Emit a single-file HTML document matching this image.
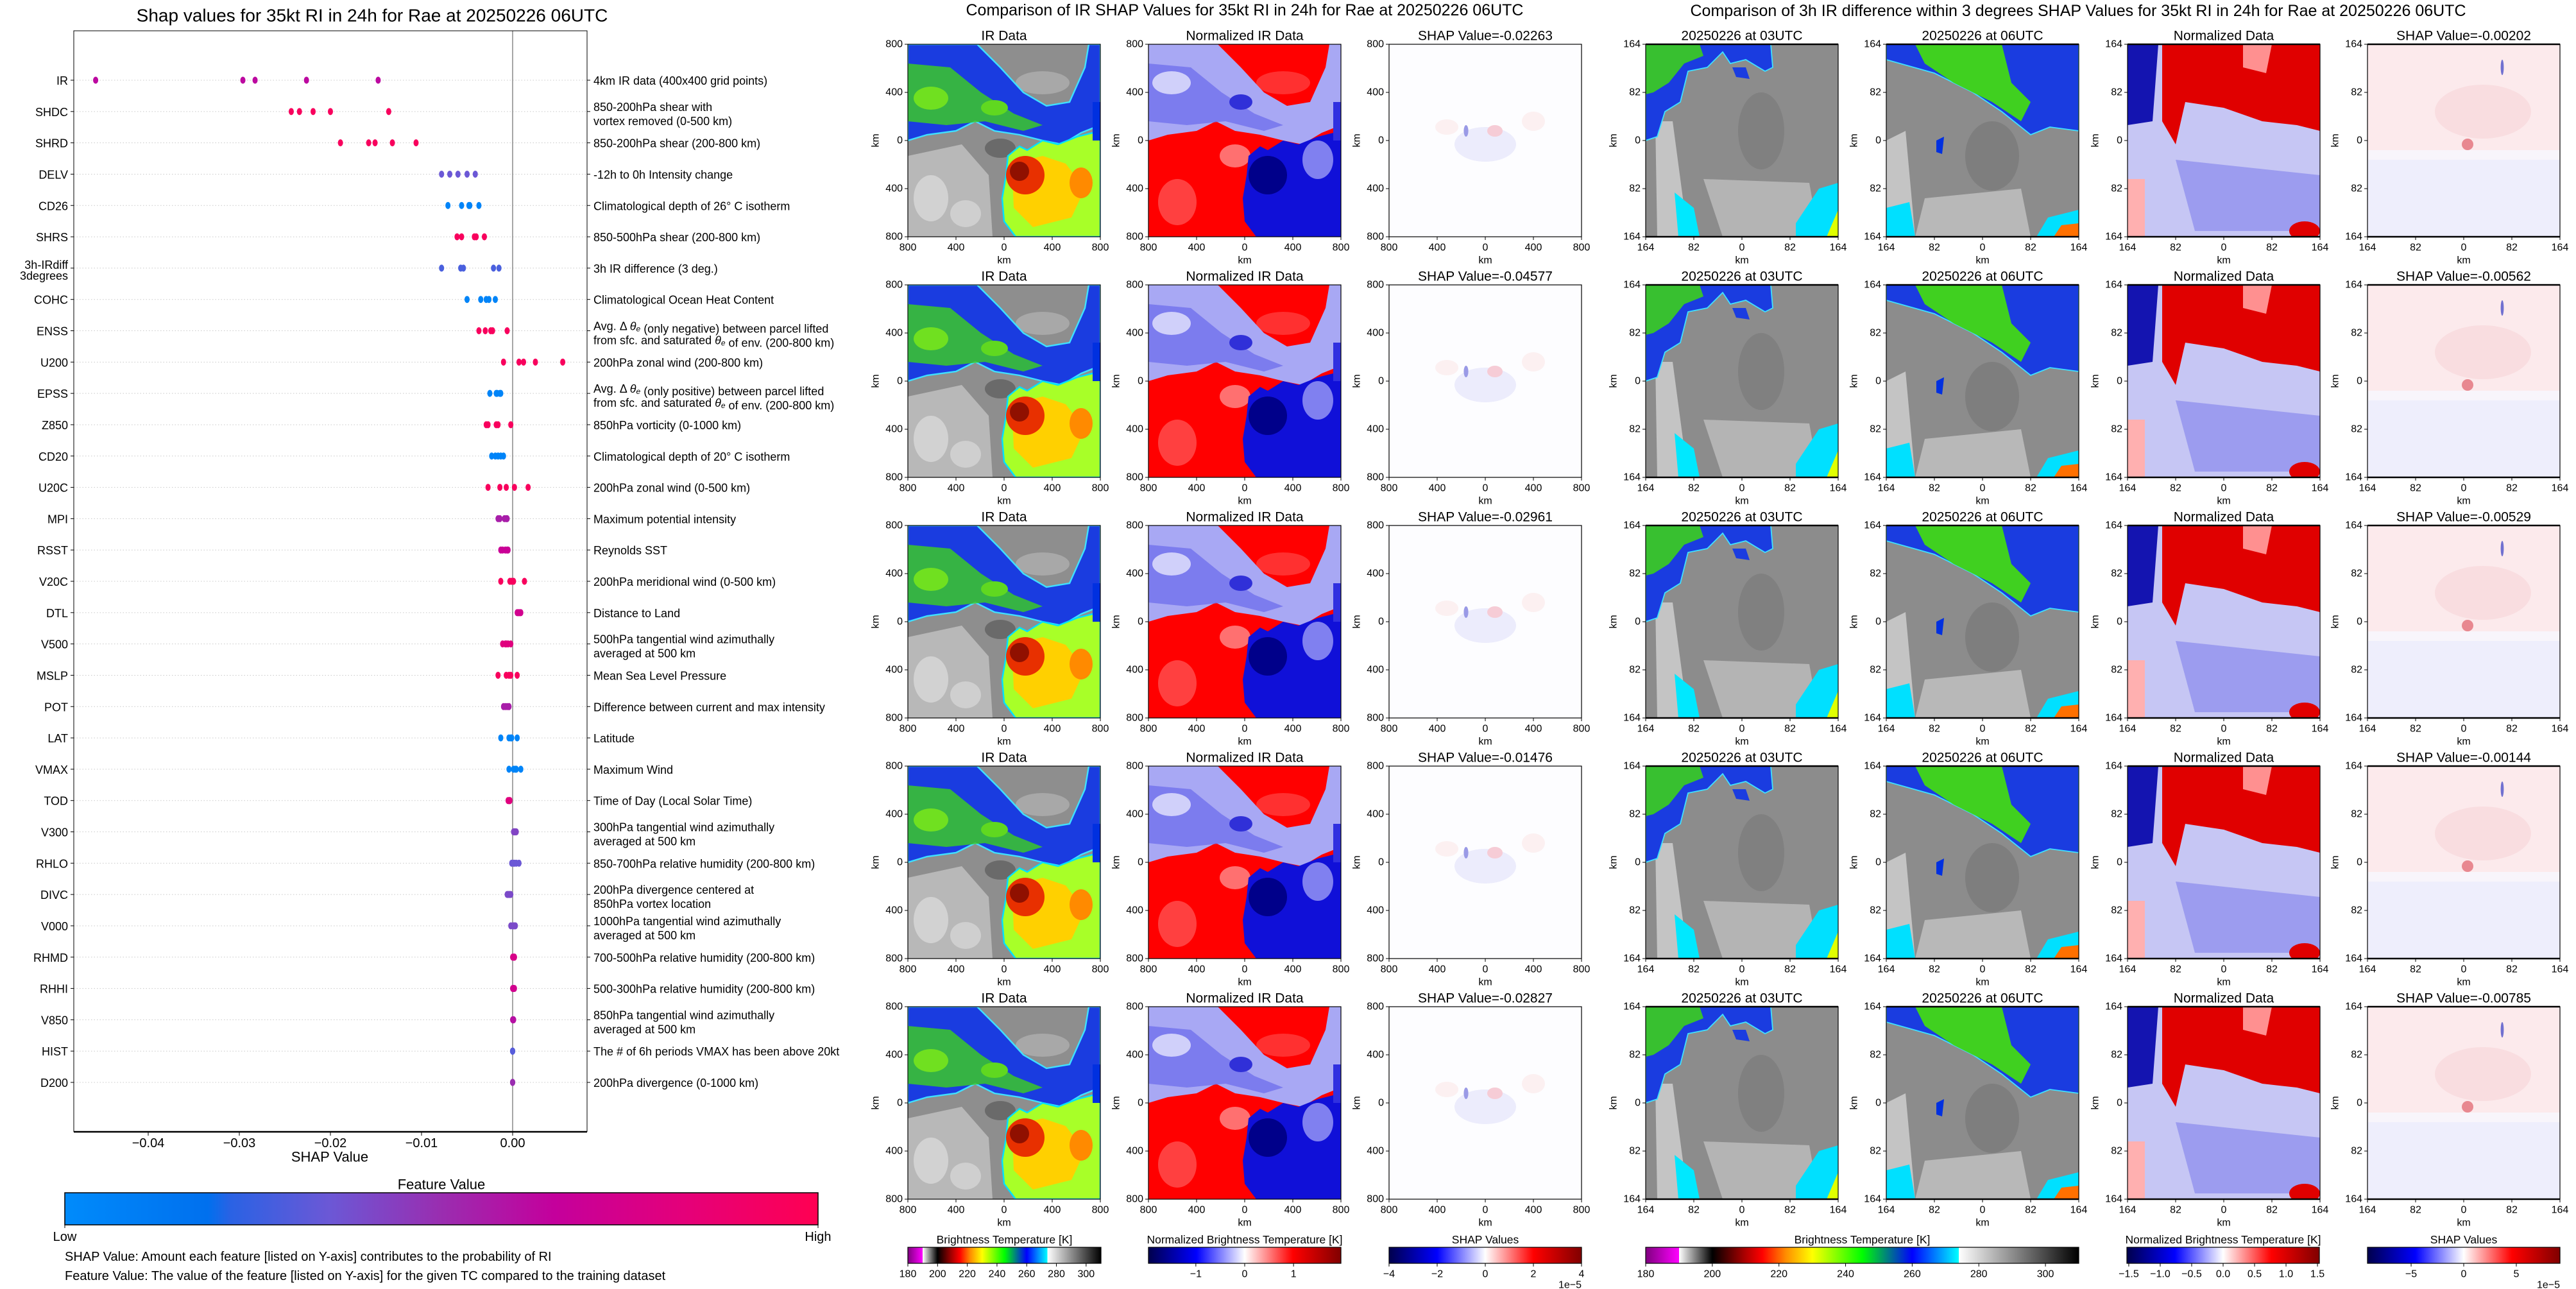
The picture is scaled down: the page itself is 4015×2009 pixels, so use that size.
<!DOCTYPE html>
<html><head><meta charset="utf-8">
<style>
html,body{margin:0;padding:0;background:#fff;}
svg{display:block;font-family:"Liberation Sans","DejaVu Sans",sans-serif;}
</style></head>
<body>
<svg id="root" xmlns="http://www.w3.org/2000/svg" width="4015" height="2009" viewBox="0 0 4015 2009">
<defs>
<linearGradient id="gShap" x1="0" x2="1" y1="0" y2="0">
<stop offset="0" stop-color="#008bfb"/><stop offset="0.19" stop-color="#0070ee"/><stop offset="0.22" stop-color="#2a62e4"/>
<stop offset="0.35" stop-color="#6b58d6"/><stop offset="0.5" stop-color="#9a2db0"/><stop offset="0.65" stop-color="#c4009c"/>
<stop offset="0.82" stop-color="#e4007a"/><stop offset="1" stop-color="#ff0052"/>
</linearGradient>
<linearGradient id="gIR" x1="0" x2="1" y1="0" y2="0">
<stop offset="0" stop-color="#800080"/><stop offset="0.0769" stop-color="#ff00ff"/><stop offset="0.0770" stop-color="#ffffff"/>
<stop offset="0.1538" stop-color="#000000"/><stop offset="0.2308" stop-color="#b00000"/><stop offset="0.2692" stop-color="#ff0000"/>
<stop offset="0.3231" stop-color="#ff8c00"/><stop offset="0.3846" stop-color="#ffff00"/><stop offset="0.5" stop-color="#00ff00"/>
<stop offset="0.6154" stop-color="#0000ff"/><stop offset="0.7230" stop-color="#00ffff"/><stop offset="0.7231" stop-color="#ffffff"/>
<stop offset="1" stop-color="#000000"/>
</linearGradient>
<linearGradient id="gSeis" x1="0" x2="1" y1="0" y2="0">
<stop offset="0" stop-color="#00004c"/><stop offset="0.25" stop-color="#0000ff"/><stop offset="0.5" stop-color="#ffffff"/>
<stop offset="0.75" stop-color="#ff0000"/><stop offset="1" stop-color="#800000"/>
</linearGradient>

<symbol id="symIR" viewBox="0 0 100 100" preserveAspectRatio="none">
<rect width="100" height="100" fill="#8e8e8e"/>
<path d="M0,58 L28,52 L42,68 L44,100 L0,100Z" fill="#b8b8b8"/>
<ellipse cx="12" cy="80" rx="9" ry="12" fill="#d2d2d2"/>
<ellipse cx="30" cy="88" rx="8" ry="7" fill="#cfcfcf"/>
<ellipse cx="48" cy="54" rx="8" ry="5" fill="#6a6a6a"/>
<ellipse cx="70" cy="20" rx="14" ry="6" fill="#a8a8a8"/>
<path d="M0,0 L36,0 L48,12 L60,25 L72,32 L84,30 L92,12 L94,0 L100,0 L100,42 L90,46 L80,52 L70,50 L58,47 L45,45 L35,40 L25,45 L10,47 L0,50Z" fill="#1a3ce0" stroke="#40e0ff" stroke-width="0.8"/>
<path d="M0,10 L22,12 L38,25 L55,36 L70,42 L60,45 L40,40 L20,42 L0,40Z" fill="#3cc828" opacity="0.85"/>
<ellipse cx="12" cy="28" rx="9" ry="6" fill="#70e020"/>
<ellipse cx="45" cy="33" rx="7" ry="4" fill="#60d820"/>
<path d="M52,58 L58,53 L62,55 L70,50 L78,52 L88,48 L100,45 L100,100 L56,100 L50,92 L49,80 L51,68Z" fill="#a8ff28" stroke="#00e0ff" stroke-width="0.8"/>
<path d="M54,62 L70,58 L82,62 L92,75 L85,90 L65,95 L55,85Z" fill="#ffd000"/>
<ellipse cx="90" cy="72" rx="6" ry="8" fill="#ff8a00"/>
<ellipse cx="61" cy="68" rx="10" ry="10" fill="#e83000"/>
<ellipse cx="58" cy="66" rx="5" ry="5" fill="#901000"/>
<rect x="96" y="30" width="4" height="20" fill="#0030e0"/>
</symbol>

<symbol id="symNIR" viewBox="0 0 100 100" preserveAspectRatio="none">
<rect width="100" height="100" fill="#ff0000"/>
<ellipse cx="15" cy="82" rx="10" ry="12" fill="#ff4040"/>
<ellipse cx="45" cy="58" rx="8" ry="6" fill="#ff7070"/>
<ellipse cx="70" cy="20" rx="14" ry="6" fill="#ff3030"/>
<path d="M0,0 L36,0 L48,12 L60,25 L72,32 L84,30 L92,12 L94,0 L100,0 L100,42 L90,46 L80,52 L70,50 L58,47 L45,45 L35,40 L25,45 L10,47 L0,50Z" fill="#a8a8f4"/>
<path d="M0,10 L22,12 L38,25 L55,36 L70,42 L60,45 L40,40 L20,42 L0,40Z" fill="#7070ec" opacity="0.8"/>
<ellipse cx="12" cy="20" rx="10" ry="6" fill="#d0d0fa"/>
<ellipse cx="48" cy="30" rx="6" ry="4" fill="#3030d8"/>
<path d="M52,58 L58,53 L62,55 L70,50 L78,52 L88,48 L100,45 L100,100 L56,100 L50,92 L49,80 L51,68Z" fill="#1010d8"/>
<ellipse cx="88" cy="60" rx="8" ry="10" fill="#8080f0"/>
<ellipse cx="62" cy="68" rx="10" ry="10" fill="#00008a"/>
<rect x="96" y="30" width="4" height="20" fill="#3030e0"/>
</symbol>

<symbol id="symSHAP" viewBox="0 0 100 100" preserveAspectRatio="none">
<rect width="100" height="100" fill="#fdfdff"/>
<ellipse cx="50" cy="52" rx="16" ry="9" fill="#ececfc"/>
<ellipse cx="55" cy="45" rx="4" ry="3" fill="#f6ccd6"/>
<ellipse cx="40" cy="45" rx="1.2" ry="3" fill="#9a9ae6"/>
<ellipse cx="30" cy="43" rx="6" ry="4" fill="#fcf0f1"/>
<ellipse cx="75" cy="40" rx="6" ry="5" fill="#fcf0f1"/>
</symbol>

<symbol id="symDA" viewBox="0 0 100 100" preserveAspectRatio="none">
<rect width="100" height="100" fill="#8c8c8c"/>
<path d="M5,40 L14,40 L22,100 L6,100Z" fill="#c4c4c4"/>
<path d="M30,70 L85,72 L90,100 L40,100Z" fill="#b4b4b4"/>
<ellipse cx="60" cy="45" rx="12" ry="20" fill="#808080"/>
<path d="M0,0 L65,0 L66,12 L62,14 L52,8 L44,10 L40,4 L32,12 L22,14 L18,30 L10,35 L6,48 L0,50Z" fill="#1a3ce0" stroke="#40e0ff" stroke-width="0.6"/>
<path d="M0,0 L28,0 L30,6 L20,10 L12,20 L4,25 L0,26Z" fill="#38c030"/>
<path d="M45,12 L52,12 L54,18 L47,17Z" fill="#1a3ce0"/>
<path d="M15,77 L25,85 L28,100 L17,100Z" fill="#00e8ff"/>
<path d="M78,93 L90,75 L100,72 L100,100 L78,100Z" fill="#00e0ff"/>
<path d="M94,100 L100,86 L100,100Z" fill="#e0ff00"/>
</symbol>

<symbol id="symDB" viewBox="0 0 100 100" preserveAspectRatio="none">
<rect width="100" height="100" fill="#8c8c8c"/>
<path d="M0,50 L10,45 L15,100 L0,100Z" fill="#c4c4c4"/>
<path d="M20,80 L70,75 L75,100 L15,100Z" fill="#b8b8b8"/>
<ellipse cx="55" cy="58" rx="14" ry="18" fill="#7e7e7e"/>
<path d="M0,0 L100,0 L100,45 L85,43 L75,47 L60,35 L45,25 L25,15 L0,8Z" fill="#1a3ce0" stroke="#40e0ff" stroke-width="0.6"/>
<path d="M15,0 L60,0 L65,20 L75,30 L70,40 L55,30 L35,20 L20,10Z" fill="#40d020"/>
<path d="M26,50 L30,48 L29,57 L26,56Z" fill="#0030e0"/>
<path d="M0,85 L12,82 L15,100 L0,100Z" fill="#00e0ff"/>
<path d="M78,100 L84,90 L100,86 L100,100Z" fill="#00e0ff"/>
<path d="M87,100 L91,94 L100,93 L100,100Z" fill="#ff7000"/>
</symbol>

<symbol id="symDC" viewBox="0 0 100 100" preserveAspectRatio="none">
<rect width="100" height="100" fill="#c6c6f4"/>
<path d="M25,60 L100,68 L100,97 L35,97Z" fill="#8a8aec" opacity="0.7"/>
<path d="M0,0 L16,0 L13,40 L0,42Z" fill="#1414b0"/>
<path d="M18,0 L100,0 L100,45 L88,42 L70,40 L50,33 L30,30 L25,52 L18,40Z" fill="#e00000"/>
<path d="M60,0 L75,0 L72,15 L60,12Z" fill="#ff9090"/>
<path d="M0,70 L9,70 L9,100 L0,100Z" fill="#ffb0b0"/>
<ellipse cx="92" cy="97" rx="8" ry="5" fill="#e00000"/>
</symbol>

<symbol id="symDD" viewBox="0 0 100 100" preserveAspectRatio="none">
<rect width="100" height="100" fill="#f8f5fb"/>
<rect width="100" height="55" fill="#fceaec"/>
<ellipse cx="60" cy="35" rx="25" ry="14" fill="#f9dde0"/>
<rect y="60" width="100" height="40" fill="#eeeefc"/>
<ellipse cx="52" cy="52" rx="3" ry="3" fill="#e88890"/>
<ellipse cx="70" cy="12" rx="0.8" ry="4" fill="#7070d0"/>
</symbol>
</defs>
<g id="left"></g>
<g id="panels"></g>
</svg>
<script>
// ---------- SHAP summary chart data ----------
const features = ["IR","SHDC","SHRD","DELV","CD26","SHRS","3h-IRdiff|3degrees","COHC","ENSS","U200","EPSS","Z850","CD20","U20C","MPI","RSST","V20C","DTL","V500","MSLP","POT","LAT","VMAX","TOD","V300","RHLO","DIVC","V000","RHMD","RHHI","V850","HIST","D200"];
const descriptions = ["4km IR data (400x400 grid points)","850-200hPa shear with|vortex removed (0-500 km)","850-200hPa shear (200-800 km)","-12h to 0h Intensity change","Climatological depth of 26° C isotherm","850-500hPa shear (200-800 km)","3h IR difference (3 deg.)","Climatological Ocean Heat Content","Avg. Δ θe (only negative) between parcel lifted|from sfc. and saturated θe of env. (200-800 km)","200hPa zonal wind (200-800 km)","Avg. Δ θe (only positive) between parcel lifted|from sfc. and saturated θe of env. (200-800 km)","850hPa vorticity (0-1000 km)","Climatological depth of 20° C isotherm","200hPa zonal wind (0-500 km)","Maximum potential intensity","Reynolds SST","200hPa meridional wind (0-500 km)","Distance to Land","500hPa tangential wind azimuthally|averaged at 500 km","Mean Sea Level Pressure","Difference between current and max intensity","Latitude","Maximum Wind","Time of Day (Local Solar Time)","300hPa tangential wind azimuthally|averaged at 500 km","850-700hPa relative humidity (200-800 km)","200hPa divergence centered at|850hPa vortex location","1000hPa tangential wind azimuthally|averaged at 500 km","700-500hPa relative humidity (200-800 km)","500-300hPa relative humidity (200-800 km)","850hPa tangential wind azimuthally|averaged at 500 km","The # of 6h periods VMAX has been above 20kt","200hPa divergence (0-1000 km)"];
const shapValues = [
[-0.04577,-0.02961,-0.02827,-0.02263,-0.01476],
[-0.0243,-0.0234,-0.0219,-0.0200,-0.0136],
[-0.0189,-0.0158,-0.0151,-0.0132,-0.0106],
[-0.0078,-0.0069,-0.0060,-0.0050,-0.0041],
[-0.0071,-0.0056,-0.0048,-0.0047,-0.0037],
[-0.0061,-0.0056,-0.0042,-0.0040,-0.0031],
[-0.0078,-0.0057,-0.0054,-0.0021,-0.0015],
[-0.0050,-0.0035,-0.0029,-0.0026,-0.0019],
[-0.0037,-0.0030,-0.0024,-0.0022,-0.0006],
[-0.0010,0.0007,0.0012,0.0025,0.0055],
[-0.0025,-0.0018,-0.0017,-0.0014,-0.0013],
[-0.0029,-0.0027,-0.0018,-0.0016,-0.0002],
[-0.0023,-0.0019,-0.0016,-0.0013,-0.0010],
[-0.0027,-0.0014,-0.0007,0.0002,0.0017],
[-0.0016,-0.0014,-0.0009,-0.0007,-0.0006],
[-0.0013,-0.0011,-0.0008,-0.0006,-0.0005],
[-0.0013,-0.0003,-0.0001,0.0001,0.0013],
[0.0005,0.0006,0.0007,0.0008,0.0009],
[-0.0011,-0.0008,-0.0007,-0.0005,-0.0002],
[-0.0016,-0.0007,-0.0004,-0.0002,0.0005],
[-0.0010,-0.0008,-0.0006,-0.0004,-0.0004],
[-0.0013,-0.0004,-0.0002,-0.0001,0.0005],
[-0.0004,0.0001,0.0003,0.0004,0.0009],
[-0.0005,-0.0004,-0.0004,-0.0003,-0.0003],
[0.0001,0.0002,0.0002,0.0003,0.0004],
[-0.0001,0.0001,0.0002,0.0004,0.0007],
[-0.0006,-0.0005,-0.0004,-0.0003,-0.0002],
[-0.0002,0.0000,0.0001,0.0002,0.0003],
[0.0000,0.0001,0.0001,0.0002,0.0002],
[0.0000,0.0001,0.0001,0.0001,0.0002],
[0.0000,0.0001,0.0001,0.0001,0.0001],
[0.0000,0.0000,0.0000,0.0000,0.0000],
[0.0000,0.0000,0.0000,0.0000,0.0000]];
const featureColorValue = [0.62,0.95,0.95,0.35,0.05,0.95,0.3,0.05,0.95,0.95,0.05,0.95,0.05,0.95,0.55,0.68,0.95,0.72,0.8,0.95,0.55,0.05,0.05,0.8,0.42,0.35,0.4,0.4,0.75,0.72,0.6,0.32,0.5];
const xTicks = [-0.04,-0.03,-0.02,-0.01,0.00];
const xTickLabels = ["−0.04","−0.03","−0.02","−0.01","0.00"];

// ---------- image panel data ----------
const irShapTitles = ["-0.02263","-0.04577","-0.02961","-0.01476","-0.02827"];
const diffShapTitles = ["-0.00202","-0.00562","-0.00529","-0.00144","-0.00785"];
const irAxisTicks = ["800","400","0","400","800"];
const diffAxisTicks = ["164","82","0","82","164"];
const tempCbTicks = [180,200,220,240,260,280,300];
const normCbTicksMid = [-1,0,1];
const shapCbTicksMid = [-4,-2,0,2,4];
const normCbTicksRight = [-1.5,-1.0,-0.5,0.0,0.5,1.0,1.5];
const shapCbTicksRight = [-5,0,5];

const NS="http://www.w3.org/2000/svg";
function mk(tag, attrs, parent){const e=document.createElementNS(NS,tag);for(const k in attrs)e.setAttribute(k,attrs[k]);parent.appendChild(e);return e;}
function txt(parent,x,y,s,size,anchor,extra){const t=mk('text',Object.assign({x:x,y:y,'font-size':size,'text-anchor':anchor||'middle','dominant-baseline':'central',fill:'#000'},extra||{}),parent);t.textContent=s;return t;}

const cmapStops=[[0,[0,139,251]],[0.19,[0,112,238]],[0.35,[107,88,214]],[0.5,[154,45,176]],[0.65,[196,0,156]],[0.82,[228,0,122]],[1,[255,0,82]]];
function cmap(v){for(let i=1;i<cmapStops.length;i++){if(v<=cmapStops[i][0]){const a=cmapStops[i-1],b=cmapStops[i];const t=(v-a[0])/(b[0]-a[0]);const c=a[1].map((x,j)=>Math.round(x+(b[1][j]-x)*t));return 'rgb('+c.join(',')+')';}}return 'rgb(255,0,82)';}

// ---------- left chart ----------
const L=document.getElementById('left');
const ax={l:115,r:915,t:48,b:1764};
const xMin=-0.04817, xMax=0.00817;
function xScale(v){return ax.l+(v-xMin)/(xMax-xMin)*(ax.r-ax.l);}
const rowTop=125, rowStep=(1687-125)/(features.length-1);
function yScale(i){return rowTop+i*rowStep;}

const title=txt(L,580,24,"Shap values for 35kt RI in 24h for Rae at 20250226 06UTC",28);



features.forEach((f,i)=>{
  const y=yScale(i);
  const g=mk('line',{x1:ax.l,x2:ax.r,y1:y,y2:y,stroke:'#c8c8c8','stroke-width':1,'stroke-dasharray':'1.5,3'},L);
  
  
  mk('line',{x1:ax.l-5,x2:ax.l,y1:y,y2:y,stroke:'#000','stroke-width':1},L);
  mk('line',{x1:ax.r,x2:ax.r+5,y1:y,y2:y,stroke:'#000','stroke-width':1},L);
  const parts=f.split('|');
  if(parts.length===1){
    const t=txt(L,ax.l-9,y+1,f,18,'end');
    
    
  } else {
    const t1=txt(L,ax.l-9,y-5,parts[0],18,'end');
    
    
    const t2=txt(L,ax.l-9,y+12,parts[1],18,'end');
    
    
  }
  const dl=descriptions[i].split('|');
  dl.forEach((line,k)=>{
    const yy = dl.length===1 ? y+1 : (k===0? y-7 : y+15);
    const t=mk('text',{x:ax.r+10,y:yy,'font-size':18,'dominant-baseline':'central',fill:'#000'},L);
    
    
    const segs=line.split('θe');
    segs.forEach((s,si)=>{
      const sp=mk('tspan',{},t); sp.textContent=s;
      if(si<segs.length-1){
        const th=mk('tspan',{'font-style':'italic'},t); th.textContent='θ';
        const sb=mk('tspan',{'font-style':'italic','font-size':12,dy:4},t); sb.textContent='e';
        const rs=mk('tspan',{dy:-4},t); rs.textContent='';
      }
    });
  });
});
const zl=mk('line',{x1:xScale(0),x2:xScale(0),y1:ax.t,y2:ax.b,stroke:'#888','stroke-width':1.5},L);


shapValues.forEach((vals,i)=>{
  vals.forEach(v=>{
    const d=mk('ellipse',{cx:xScale(v),cy:yScale(i),rx:4,ry:5.5,fill:cmap(featureColorValue[i])},L);
    
    
  });
});
const fr=mk('path',{d:`M${ax.l},${ax.b} L${ax.l},${ax.t} L${ax.r},${ax.t} L${ax.r},${ax.b}`,fill:'none',stroke:'#000','stroke-width':1},L);


const xa=mk('line',{x1:ax.l,x2:ax.r,y1:ax.b,y2:ax.b,stroke:'#000','stroke-width':2.5},L);


xTicks.forEach((v,k)=>{
  mk('line',{x1:xScale(v),x2:xScale(v),y1:ax.b,y2:ax.b+6,stroke:'#000','stroke-width':1},L);
  const t=txt(L,xScale(v),1782,xTickLabels[k],20);
  
  
});
const xt=txt(L,514,1803,"SHAP Value",22);


const ct=txt(L,688,1846,"Feature Value",22);


const cb=mk('rect',{x:101,y:1859,width:1174,height:50,fill:'url(#gShap)',stroke:'#000','stroke-width':1.5},L);


mk('line',{x1:101,x2:101,y1:1909,y2:1914,stroke:'#000'},L);
mk('line',{x1:1275,x2:1275,y1:1909,y2:1914,stroke:'#000'},L);
const lo=txt(L,101,1928,"Low",20);


const hi=txt(L,1275,1928,"High",20);


const n1=txt(L,101,1959,"SHAP Value: Amount each feature [listed on Y-axis] contributes to the probability of RI",20,'start');


const n2=txt(L,101,1989,"Feature Value: The value of the feature [listed on Y-axis] for the given TC compared to the training dataset",20,'start');



// ---------- image panels ----------
const P=document.getElementById('panels');
const st1=txt(P,1940,16,"Comparison of IR SHAP Values for 35kt RI in 24h for Rae at 20250226 06UTC",25);


const st2=txt(P,3239,17,"Comparison of 3h IR difference within 3 degrees SHAP Values for 35kt RI in 24h for Rae at 20250226 06UTC",25);



const midX=[1415,1790,2165], rightX=[2565,2940,3316,3690];
const PW=300, PH=300;
function panel(x,y,sym,title,ticks,name,thick){
  const u=mk('use',{href:'#'+sym,x:x,y:y,width:PW,height:PH},P);
  
  
  mk('rect',{x:x,y:y,width:PW,height:PH,fill:'none',stroke:'#000','stroke-width':1.2},P);
  if(thick){mk('line',{x1:x,x2:x+PW,y1:y,y2:y,stroke:'#000','stroke-width':2.5},P);mk('line',{x1:x,x2:x+PW,y1:y+PH,y2:y+PH,stroke:'#000','stroke-width':2.5},P);}
  const t=txt(P,x+PW/2,y-13,title,21);
  
  
  ticks.forEach((lab,k)=>{
    const p=k/(ticks.length-1);
    mk('line',{x1:x-5,x2:x,y1:y+p*PH,y2:y+p*PH,stroke:'#000'},P);
    const yl=txt(P,x-8,y+p*PH,lab,16,'end');
    
    
    mk('line',{x1:x+p*PW,x2:x+p*PW,y1:y+PH,y2:y+PH+5,stroke:'#000'},P);
    const xl=txt(P,x+p*PW,y+PH+17,lab,16);
    
    
  });
  const kx=txt(P,x+PW/2,y+PH+37,"km",16);
  
  
  const ky=txt(P,x-50,y+PH/2,"km",16,'middle',{transform:`rotate(-90 ${x-50} ${y+PH/2})`});
  
  
}
for(let r=0;r<5;r++){
  const y=69+r*375;
  panel(midX[0],y,'symIR',"IR Data",irAxisTicks,'ir-data-panel',false);
  panel(midX[1],y,'symNIR',"Normalized IR Data",irAxisTicks,'normalized-ir-panel',false);
  panel(midX[2],y,'symSHAP',"SHAP Value="+irShapTitles[r],irAxisTicks,'ir-shap-panel',false);
  panel(rightX[0],y,'symDA',"20250226 at 03UTC",diffAxisTicks,'ir-03utc-panel',true);
  panel(rightX[1],y,'symDB',"20250226 at 06UTC",diffAxisTicks,'ir-06utc-panel',true);
  panel(rightX[2],y,'symDC',"Normalized Data",diffAxisTicks,'normalized-diff-panel',true);
  panel(rightX[3],y,'symDD',"SHAP Value="+diffShapTitles[r],diffAxisTicks,'diff-shap-panel',true);
}
function colorbar(x0,x1,grad,title,ticks,vmin,vmax,fmt,name,offset){
  const t=txt(P,(x0+x1)/2,1932,title,17.5);
  
  
  const r=mk('rect',{x:x0,y:1944,width:x1-x0,height:25,fill:'url(#'+grad+')',stroke:'#000','stroke-width':1.2},P);
  
  
  ticks.forEach(v=>{
    const xx=x0+(v-vmin)/(vmax-vmin)*(x1-x0);
    mk('line',{x1:xx,x2:xx,y1:1969,y2:1974,stroke:'#000'},P);
    const l=txt(P,xx,1986,fmt(v),16);
    
    
  });
  if(offset){const o=txt(P,x1,2003,offset,16,'end');
    
    }
}
const fInt=v=>String(v).replace('-','−');
const f1=v=>v.toFixed(1).replace('-','−');
colorbar(1415,1716,'gIR',"Brightness Temperature [K]",tempCbTicks,180,310,fInt,'ir-temp-colorbar');
colorbar(1790,2090,'gSeis',"Normalized Brightness Temperature [K]",normCbTicksMid,-1.97,1.97,fInt,'ir-norm-colorbar');
colorbar(2165,2465,'gSeis',"SHAP Values",shapCbTicksMid,-4,4,fInt,'ir-shap-colorbar','1e−5');
colorbar(2565,3240,'gIR',"Brightness Temperature [K]",tempCbTicks,180,310,fInt,'diff-temp-colorbar');
colorbar(3315,3615,'gSeis',"Normalized Brightness Temperature [K]",normCbTicksRight,-1.53,1.53,f1,'diff-norm-colorbar');
colorbar(3690,3990,'gSeis',"SHAP Values",shapCbTicksRight,-9.15,9.15,fInt,'diff-shap-colorbar','1e−5');
</script>
</body></html>
